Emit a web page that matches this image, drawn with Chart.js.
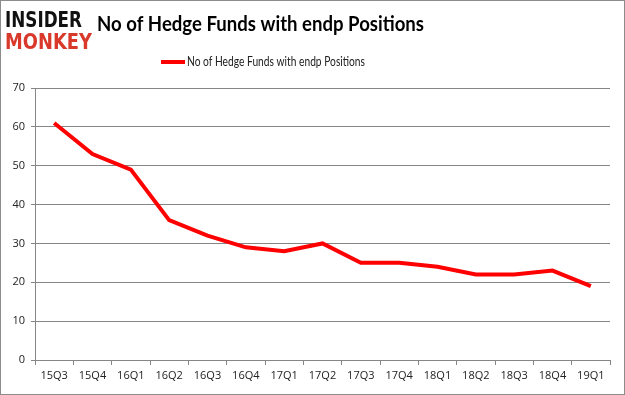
<!DOCTYPE html>
<html><head><meta charset="utf-8">
<script src="https://cdn.jsdelivr.net/npm/chart.js@4/dist/chart.umd.min.js"></script>
<style>html,body{margin:0;padding:0;background:#fff}#wrap{width:625px;height:395px;position:relative}</style>
</head><body><div id="wrap"><canvas id="c" width="625" height="395"></canvas></div>
<script>
const categories = ["15Q3","15Q4","16Q1","16Q2","16Q3","16Q4","17Q1","17Q2","17Q3","17Q4","18Q1","18Q2","18Q3","18Q4","19Q1"];
const hedgeFunds = [61,53,49,36,32,29,28,30,25,25,24,22,22,23,19];
const yTicks = [0,10,20,30,40,50,60,70];
const seriesName = "No of Hedge Funds with endp Positions";
const titleText = "No of Hedge Funds with endp Positions";

const decor = {
  id: 'decor',
  afterDraw(chart) {
    const ctx = chart.ctx;
    ctx.save();
    ctx.strokeStyle = '#8c8c8c'; ctx.lineWidth = 1;
    ctx.strokeRect(0.5, 0.5, 624, 394);
    ctx.textBaseline = 'alphabetic'; ctx.textAlign = 'left';
    ctx.font = 'bold 22px "DejaVu Sans"';
    ctx.fillStyle = '#111';
    ctx.fillText('INSIDER', 5, 27, 77);
    ctx.fillStyle = '#d9392b';
    ctx.fillText('MONKEY', 5, 49, 87);
    ctx.fillStyle = '#000';
    ctx.font = 'bold 21px "Lato"';
    ctx.fillText(titleText, 97, 31, 327);
    ctx.strokeStyle = '#ff0000'; ctx.lineWidth = 4; ctx.lineCap = 'butt';
    ctx.beginPath(); ctx.moveTo(161, 62); ctx.lineTo(185, 62); ctx.stroke();
    ctx.fillStyle = '#222';
    ctx.font = '12.5px "Lato"';
    ctx.textBaseline = 'middle';
    ctx.fillText(seriesName, 187, 62, 178);
    ctx.restore();
  }
};

new Chart(document.getElementById('c'), {
  type: 'line',
  data: { labels: categories, datasets: [{ label: seriesName, data: hedgeFunds, borderColor: '#ff0000', backgroundColor: '#ff0000', borderWidth: 4, pointRadius: 0, tension: 0, fill: false }] },
  options: {
    responsive: false, animation: false, devicePixelRatio: 1,
    layout: { padding: { left: 0, right: 15, top: 88, bottom: 0 } },
    plugins: { legend: { display: false }, title: { display: false }, tooltip: { enabled: false } },
    scales: {
      x: {
        offset: true,
        grid: { offset: true, drawOnChartArea: false, drawTicks: true, tickLength: 5, color: '#868686' },
        border: { color: '#868686' },
        ticks: { color: '#222', font: { family: 'Open Sans', size: 11 }, padding: 4, maxRotation: 0, autoSkip: false },
        afterFit(s) { s.height = 35; }
      },
      y: {
        min: 0, max: 70,
        afterBuildTicks(s) { s.ticks = yTicks.map(v => ({ value: v })); },
        grid: { color: '#868686', tickLength: 4 },
        border: { color: '#868686' },
        ticks: { color: '#222', font: { family: 'Open Sans', size: 11 }, padding: 6 },
        afterFit(s) { s.width = 35; }
      }
    }
  },
  plugins: [decor]
});
</script></body></html>
